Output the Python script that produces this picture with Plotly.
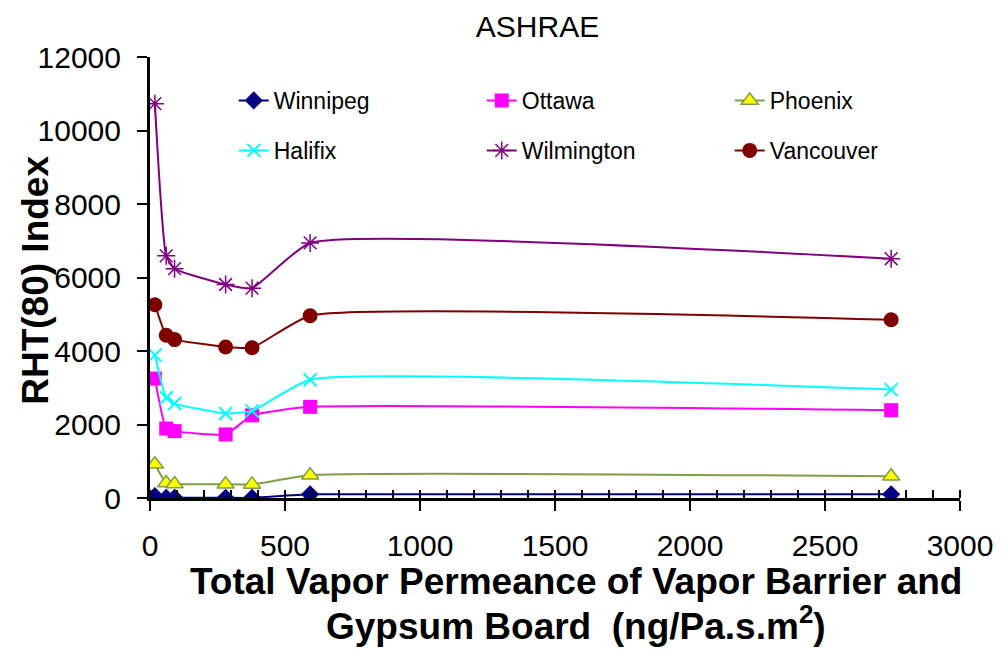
import plotly.graph_objects as go

permeance = [18, 60, 91, 280, 378, 593, 2745]

winnipeg = [50, 5, 5, 5, 5, 100, 100]
ottawa = [3250, 1890, 1820, 1730, 2250, 2480, 2390]
phoenix = [920, 410, 380, 375, 370, 620, 590]
halifix = [3890, 2730, 2570, 2300, 2370, 3220, 2950]
wilmington = [10730, 6590, 6240, 5810, 5710, 6940, 6510]
vancouver = [5260, 4430, 4310, 4110, 4090, 4960, 4850]

x_ticks = [0, 500, 1000, 1500, 2000, 2500, 3000]
y_ticks = [0, 2000, 4000, 6000, 8000, 10000, 12000]

FONT = "Arial, Liberation Sans, sans-serif"

series = [
    ("Winnipeg", winnipeg, "#000080", dict(symbol="diamond", size=14, color="#000080"), "legend"),
    ("Ottawa", ottawa, "#FF00FF", dict(symbol="square", size=14, color="#FF00FF"), "legend"),
    ("Phoenix", phoenix, "#7F9F45", dict(symbol="triangle-up", size=15, color="#FFFF00",
                                          line=dict(color="#7F9F45", width=1.5)), "legend"),
    ("Halifix", halifix, "#00FFFF", dict(symbol="x-thin-open", size=13, color="#00FFFF",
                                         line=dict(color="#00FFFF", width=2)), "legend2"),
    ("Wilmington", wilmington, "#800080", dict(symbol="asterisk-open", size=15, color="#800080",
                                               line=dict(color="#800080", width=1.5)), "legend2"),
    ("Vancouver", vancouver, "#800000", dict(symbol="circle", size=15, color="#800000"), "legend2"),
]

fig = go.Figure()
for name, vals, col, mk, lg in series:
    fig.add_trace(go.Scatter(
        x=permeance, y=vals, name=name, mode="lines+markers",
        line=dict(color=col, width=2, shape="spline", smoothing=0.45),
        marker=mk, legend=lg,
    ))

OFF = 8  # page body margin
W, H = 1005 - OFF, 655 - OFF
L, R, T, B = 150 - OFF, 962.5 - OFF, 56.5 - OFF, 497.7 - OFF

def px2paper(px, py):
    # px, py in page coordinates
    return (px - OFF - L) / (R - L), (B - (py - OFF)) / (B - T)

legend_common = dict(
    orientation="h", font=dict(family=FONT, size=23, color="black"),
    bgcolor="rgba(0,0,0,0)", entrywidth=203, entrywidthmode="pixels",
    xanchor="left", yanchor="middle", itemclick=False,
)
lx, ly1 = px2paper(234, 100)
_, ly2 = px2paper(234, 150)

fig.update_layout(
    width=W, height=H,
    margin=dict(l=L, r=W - R, t=T, b=H - B, pad=0),
    paper_bgcolor="white", plot_bgcolor="white",
    font=dict(family=FONT, color="black"),
    title=dict(text="ASHRAE", x=(537.5 - OFF) / W, y=1 - (26.5 - OFF) / H, xref="container", yref="container",
               xanchor="center", yanchor="middle", font=dict(size=30, family=FONT, color="black")),
    legend=dict(x=lx, y=ly1, **legend_common),
    legend2=dict(x=lx, y=ly2, **legend_common),
    xaxis=dict(range=[0, 3000], tickvals=x_ticks, ticktext=[str(v) for v in x_ticks],
               showgrid=False, zeroline=False, showline=True, linecolor="black", linewidth=3,
               ticks="outside", ticklen=10, tickwidth=2, tickcolor="black",
               minor=dict(dtick=100, ticks="inside", ticklen=8, tickwidth=1.5, tickcolor="black", showgrid=False),
               tickfont=dict(size=30, family=FONT, color="black"), ticklabelstandoff=9),
    yaxis=dict(range=[0, 12000], tickvals=y_ticks, ticktext=[str(v) for v in y_ticks],
               showgrid=False, zeroline=False, showline=True, linecolor="black", linewidth=3,
               ticks="outside", ticklen=10, tickwidth=2, tickcolor="black",
               tickfont=dict(size=30, family=FONT, color="black"), ticklabelstandoff=10),
    showlegend=True,
)

ax, ay = px2paper(35, 280)
fig.add_annotation(text="<b>RHT(80) Index</b>", x=ax, y=ay, xref="paper", yref="paper",
                   textangle=-90, showarrow=False, xanchor="center", yanchor="middle",
                   font=dict(size=37, family=FONT, color="black"))
t1x, t1y = px2paper(577, 581)
t2x, t2y = px2paper(577, 623)
fig.add_annotation(text="<b>Total Vapor Permeance of Vapor Barrier and</b>", x=t1x, y=t1y,
                   xref="paper", yref="paper", showarrow=False, xanchor="center", yanchor="middle",
                   font=dict(size=37, family=FONT, color="black"))
fig.add_annotation(text="<b>Gypsum Board  (ng/Pa.s.m<sup>2</sup>)</b>", x=t2x, y=t2y,
                   xref="paper", yref="paper", showarrow=False, xanchor="center", yanchor="middle",
                   font=dict(size=37, family=FONT, color="black"))

fig.write_html("out.html")
